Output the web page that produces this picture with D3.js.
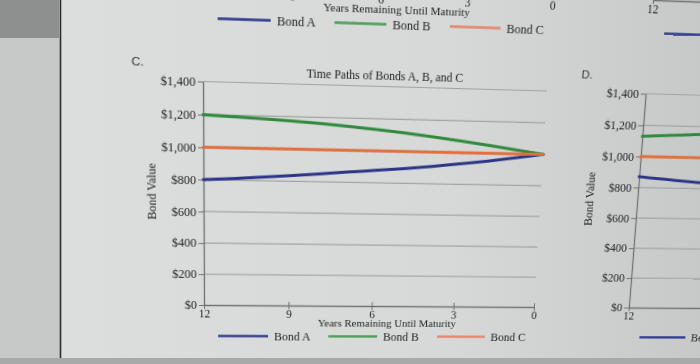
<!DOCTYPE html>
<html><head><meta charset="utf-8">
<script src="https://cdn.jsdelivr.net/npm/d3@7"></script>
<style>
html,body{margin:0;padding:0;width:700px;height:364px;overflow:hidden;background:#d7d9d8;}
#bg{position:absolute;left:0;top:0;}
#chart{position:absolute;left:0;top:0;overflow:visible;transform-origin:0 0;}
#chart text{font-family:"Liberation Serif","Times New Roman",serif;fill:#1e1e1e;}
</style></head><body>
<svg id="bg" width="700" height="364"></svg>
<svg id="chart" width="1000" height="400"></svg>
<script>
// ---- data ----
const years = [12, 11, 10, 9, 8, 7, 6, 5, 4, 3, 2, 1, 0];
const bondA_C = [800, 810, 822, 835, 849, 864, 878, 893, 910, 930, 951, 975, 1000];
const bondB_C = [1200, 1192, 1184, 1175, 1163, 1150, 1134, 1116, 1096, 1074, 1051, 1026, 1000];
const bondC_C = [1000, 1000, 1000, 1000, 1000, 1000, 1000, 1000, 1000, 1000, 1000, 1000, 1000];
const yearsD = [12, 11, 10, 9];
const bondA_D = [870, 856, 842, 829];
const bondB_D = [1130, 1140, 1150, 1159];
const bondC_D = [1000, 1000, 1000, 1000];
const xTicks = [12, 9, 6, 3, 0];
const yTicks = [0, 200, 400, 600, 800, 1000, 1200, 1400];
const seriesNames = ["Bond A", "Bond B", "Bond C"];
const chartTitle = "Time Paths of Bonds A, B, and C";
const xTitle = "Years Remaining Until Maturity";
const yTitle = "Bond Value";

const lineColors = ["#2b3588", "#2f8a3d", "#e2703c"];
const legendColors = ["#2f3a8e", "#4c9f58", "#e5876c"];

// ---- background (photo surroundings) ----
const bg = d3.select("#bg");
const defs = bg.append("defs");
const lg = defs.append("linearGradient").attr("id", "pg").attr("x1", 0).attr("x2", 1).attr("y1", 0).attr("y2", 0);
lg.append("stop").attr("offset", "0%").attr("stop-color", "#dcdedd");
lg.append("stop").attr("offset", "60%").attr("stop-color", "#d7d9d8");
lg.append("stop").attr("offset", "100%").attr("stop-color", "#c7c9c8");
bg.append("rect").attr("x", 61).attr("y", 0).attr("width", 639).attr("height", 364).attr("fill", "url(#pg)");
bg.append("rect").attr("x", 0).attr("y", 0).attr("width", 61).attr("height", 364).attr("fill", "#c7c9c8");
bg.append("rect").attr("x", 0).attr("y", 0).attr("width", 59).attr("height", 38).attr("fill", "#8e8f8f");
bg.append("line").attr("x1", 60.5).attr("x2", 60.5).attr("y1", 0).attr("y2", 364).attr("stroke", "#2c2c2c").attr("stroke-width", 1.6);
bg.append("rect").attr("x", 0).attr("y", 358).attr("width", 700).attr("height", 6).attr("fill", "#a8aaa9");

// ---- chart plane (flat page, then photographed with perspective) ----
const svg = d3.select("#chart");

function drawChart(ox, oy, opts) {
  const g = svg.append("g").attr("transform", `translate(${ox},${oy})`);
  const x = d3.scaleLinear().domain([12, 0]).range([203, 540]);
  const y = d3.scaleLinear().domain([0, 1400]).range([305, 81.5]);

  if (opts.label) {
    g.append("text").attr("x", 136).attr("y", 68).text(opts.label)
      .style("font-family", "'Liberation Sans',Arial,sans-serif").style("font-size", "11.5px").style("fill", "#333");
  }
  if (opts.title) {
    g.append("text").attr("x", 378.5).attr("y", 75).attr("text-anchor", "middle")
      .style("font-size", "11.5px").text(opts.title);
  }
  if (!opts.lowerOnly) {
    // gridlines
    g.append("g").selectAll("line").data(yTicks.filter(v => v > 0)).join("line")
      .attr("x1", x(12)).attr("x2", x(0)).attr("y1", d => y(d)).attr("y2", d => y(d))
      .attr("stroke", "#a2a4a3").attr("stroke-width", 1.2);

    // y axis
    const ya = g.append("g").attr("transform", `translate(${x(12)},0)`)
      .call(d3.axisLeft(y).tickValues(yTicks).tickSize(5).tickSizeOuter(0).tickPadding(2).tickFormat(d3.format("$,")));
    ya.select(".domain").attr("stroke", "#6f7170").attr("stroke-width", 1.3);
    ya.selectAll(".tick line").attr("stroke", "#6f7170");
    ya.selectAll(".tick text").style("font-size", "12px").attr("fill", "#1e1e1e");

    g.append("text").attr("transform", "translate(157,190) rotate(-90)").attr("text-anchor", "middle")
      .style("font-size", "12px").text(yTitle);
  }

  // x axis
  const xa = g.append("g").attr("transform", `translate(0,${y(0)})`)
    .call(d3.axisBottom(x).tickValues(xTicks).tickSizeOuter(0).tickFormat(d3.format("d")));
  xa.select(".domain").attr("stroke", "#6f7170").attr("stroke-width", 1.3);
  xa.selectAll(".tick line").attr("y1", -4).attr("y2", 4).attr("stroke", "#6f7170");
  xa.selectAll(".tick text").attr("y", 13.5).attr("dy", 0).style("font-size", "11.5px").attr("fill", "#1e1e1e");

  // x axis title
  g.append("text").attr("x", 388).attr("y", 326.7).attr("text-anchor", "middle").style("font-size", "11px").text(xTitle);

  // series
  const line = d3.line().x(d => x(d.t)).y(d => y(d.v)).curve(d3.curveMonotoneX);
  (opts.series || []).forEach((s, i) => {
    g.append("path").datum(s.t.map((t, k) => ({t, v: s.v[k]})))
      .attr("d", line).attr("fill", "none").attr("stroke", lineColors[i])
      .attr("stroke-width", 3).attr("stroke-linecap", "round");
  });

  // legend
  const legX = [217, 328, 440];
  seriesNames.forEach((n, i) => {
    g.append("line").attr("x1", legX[i]).attr("x2", legX[i] + 50).attr("y1", 337.5).attr("y2", 337.5)
      .attr("stroke", legendColors[i]).attr("stroke-width", 2.6);
    g.append("text").attr("x", legX[i] + 56).attr("y", 341.6).style("font-size", "12px").text(n);
  });
}

// charts above (only their lower parts are in view)
drawChart(0, -316, {lowerOnly: true});
drawChart(438, -316, {lowerOnly: true});
// chart C
drawChart(0, 0, {
  label: "C.", title: chartTitle,
  series: [
    {t: years, v: bondA_C},
    {t: years, v: bondB_C},
    {t: years, v: bondC_C}
  ]
});
// chart D (left edge in view)
drawChart(438, 0, {
  label: "D.",
  series: [
    {t: yearsD, v: bondA_D},
    {t: yearsD, v: bondB_D},
    {t: yearsD, v: bondC_D}
  ]
});

// ---- perspective of the photo: map plot corners of chart C to where they appear ----
function homography(src, dst) {
  const A = [], B = [];
  for (let i = 0; i < 4; i++) {
    const [sx, sy] = src[i], [dx, dy] = dst[i];
    A.push([sx, sy, 1, 0, 0, 0, -dx * sx, -dx * sy]); B.push(dx);
    A.push([0, 0, 0, sx, sy, 1, -dy * sx, -dy * sy]); B.push(dy);
  }
  const n = 8;
  for (let c = 0; c < n; c++) {
    let p = c;
    for (let r = c + 1; r < n; r++) if (Math.abs(A[r][c]) > Math.abs(A[p][c])) p = r;
    [A[c], A[p]] = [A[p], A[c]]; [B[c], B[p]] = [B[p], B[c]];
    for (let r = 0; r < n; r++) {
      if (r === c) continue;
      const f = A[r][c] / A[c][c];
      for (let k = c; k < n; k++) A[r][k] -= f * A[c][k];
      B[r] -= f * B[c];
    }
  }
  return B.map((b, i) => b / A[i][i]);
}
const H = homography(
  [[203, 81.5], [540, 81.5], [540, 305], [203, 305]],
  [[203, 81.5], [547, 91], [534, 307], [204, 305]]
);
const [a, b, c, d, e, f, gg, hh] = H;
svg.style("transform", `matrix3d(${a},${d},0,${gg},${b},${e},0,${hh},0,0,1,0,${c},${f},0,1)`);

// drop texts that fall completely outside the photographed area
svg.selectAll("text").each(function () {
  const r = this.getBoundingClientRect();
  if (r.right <= 0 || r.left >= 700 || r.bottom <= 0 || r.top >= 364) d3.select(this).remove();
});
</script>
</body></html>
